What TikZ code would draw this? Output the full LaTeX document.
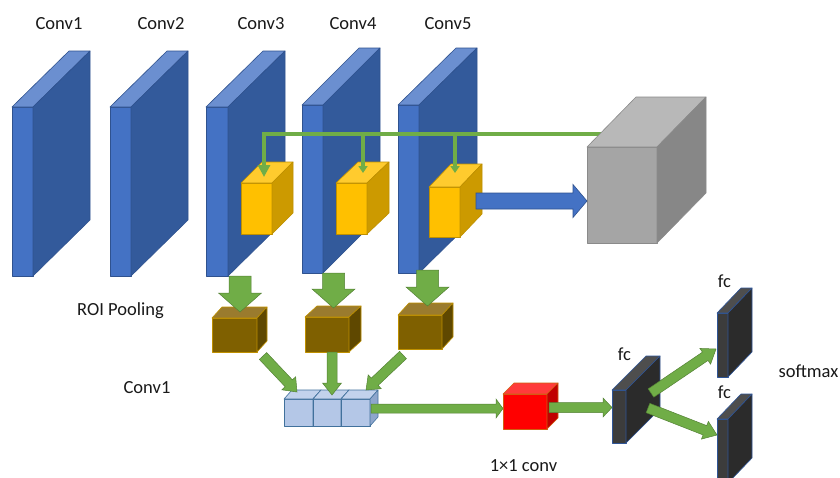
\documentclass[tikz,border=0pt]{standalone}
\usepackage{fontspec}
\setmainfont{Carlito}
\usetikzlibrary{calc,arrows.meta}
\definecolor{blueF}{HTML}{4472C4}\definecolor{blueT}{HTML}{6B8FD0}\definecolor{blueS}{HTML}{335A9B}\definecolor{blueE}{HTML}{2F528F}
\definecolor{yelF}{HTML}{FFC000}\definecolor{yelT}{HTML}{FFCB2E}\definecolor{yelS}{HTML}{CC9A00}\definecolor{yelE}{HTML}{BF9000}
\definecolor{greyF}{HTML}{A5A5A5}\definecolor{greyT}{HTML}{B8B8B8}\definecolor{greyS}{HTML}{878787}\definecolor{greyE}{HTML}{8A8A8A}
\definecolor{brnF}{HTML}{7F6000}\definecolor{brnT}{HTML}{9A7B2E}\definecolor{brnS}{HTML}{5F4800}\definecolor{brnE}{HTML}{BF9000}
\definecolor{lbF}{HTML}{B4C7E7}\definecolor{lbT}{HTML}{C2D2EC}\definecolor{lbS}{HTML}{8EA6CC}\definecolor{lbE}{HTML}{41719C}
\definecolor{rdF}{HTML}{FF0000}\definecolor{rdT}{HTML}{FF3B3B}\definecolor{rdS}{HTML}{C00000}\definecolor{rdE}{HTML}{D06010}
\definecolor{dkF}{HTML}{3C3C3C}\definecolor{dkT}{HTML}{4E4E4E}\definecolor{dkS}{HTML}{2B2B2B}\definecolor{dkE}{HTML}{2F5597}
\definecolor{grn}{HTML}{70AD47}\definecolor{grnE}{HTML}{548235}
\newcommand\cuboid[8]{%
  \node[#8 front, minimum width=#4pt, minimum height=#5pt, anchor=north west] (#1) at (#2,#3) {};
  \filldraw[#8 top] (#1.north west) -- ++(#6,-#7) -- ++(#4,0) -- (#1.north east) -- cycle;
  \filldraw[#8 side] (#1.north east) -- ++(#6,-#7) -- ++(0,#5) -- (#1.south east) -- cycle;
}
\newcommand\blockarrow[6]{%
  \coordinate (tmpH) at ($(#3)!#6!(#2)$);
  \filldraw[#1] ($(#2)!#4!90:(#3)$) -- ($(tmpH)!#4!90:(#3)$) -- ($(tmpH)!#5!90:(#3)$) -- (#3)
    -- ($(tmpH)!#5!-90:(#3)$) -- ($(tmpH)!#4!-90:(#3)$) -- ($(#2)!#4!-90:(#3)$) -- cycle;
}
\begin{document}
\begin{tikzpicture}[x=1pt,y=-1pt,
  face/.style={inner sep=0pt, outer sep=0pt, line width=0.6pt, line join=round},
  blue front/.style={face, fill=blueF, draw=blueE},
  blue top/.style={face, fill=blueT, draw=blueE},
  blue side/.style={face, fill=blueS, draw=blueE},
  yel front/.style={face, fill=yelF, draw=yelE},
  yel top/.style={face, fill=yelT, draw=yelE},
  yel side/.style={face, fill=yelS, draw=yelE},
  grey front/.style={face, fill=greyF, draw=greyE},
  grey top/.style={face, fill=greyT, draw=greyE},
  grey side/.style={face, fill=greyS, draw=greyE},
  brn front/.style={face, fill=brnF, draw=brnE},
  brn top/.style={face, fill=brnT, draw=brnE},
  brn side/.style={face, fill=brnS, draw=brnE},
  lb front/.style={face, fill=lbF, draw=lbE},
  lb top/.style={face, fill=lbT, draw=lbE},
  lb side/.style={face, fill=lbS, draw=lbE},
  rd front/.style={face, fill=rdF, draw=rdE},
  rd top/.style={face, fill=rdT, draw=rdE},
  rd side/.style={face, fill=rdS, draw=rdE},
  dk front/.style={face, fill=dkF, draw=dkE},
  dk top/.style={face, fill=dkT, draw=dkE},
  dk side/.style={face, fill=dkS, draw=dkE},
  garrow/.style={fill=grn, draw=grnE, line width=0.5pt, line join=miter},
  barrow/.style={fill=blueF, draw=blueE, line width=0.6pt, line join=miter},
  gline/.style={draw=grn, line width=3.5pt},
  lbl/.style={font=\fontsize{18.5}{22}\selectfont, anchor=base, inner sep=0pt, text=black!90}
]
\clip (0,0) rectangle (840,477);
\fill[white] (0,0) rectangle (840,477);
% conv slabs
\cuboid{conv1}{12}{107}{21}{169}{57}{56}{blue}
\cuboid{conv2}{110}{107}{21}{169}{57}{56}{blue}
\cuboid{conv3}{206}{107}{22}{169}{57}{56}{blue}
\cuboid{conv4}{302}{105}{21}{168}{57}{57}{blue}
\cuboid{conv5}{398}{105}{21}{168}{58}{57}{blue}
% ROI cubes
\cuboid{roi1}{241}{183}{31}{51}{21}{21}{yel}
\cuboid{roi2}{336}{183}{31}{51}{22}{21}{yel}
\cuboid{roi3}{429}{187}{31}{50}{22}{23}{yel}
% green feedback lines
\coordinate (gsrc) at (612,134);
\coordinate (roi1-in) at (264,177);
\coordinate (br2) at (363,134);
\coordinate (roi2-in) at (363,173);
\coordinate (br3) at (455,134);
\coordinate (roi3-in) at (455,173);
\draw[gline, -{Triangle[length=12pt,width=12pt]}] (gsrc) -| (roi1-in);
\draw[gline, -{Triangle[length=7pt,width=9pt]}] (br2) -- (roi2-in);
\draw[gline, -{Triangle[length=7pt,width=9pt]}] (br3) -- (roi3-in);
% grey feature box
\cuboid{feat}{587}{147}{70}{96}{49}{50}{grey}
% blue arrow
\coordinate (roi3-out) at (476,201);
\coordinate (feat-in) at (587,201);
\blockarrow{barrow}{roi3-out}{feat-in}{8pt}{16.5pt}{14pt}
% pooled cubes
\cuboid{pool1}{212}{318}{45}{34}{10}{11}{brn}
\cuboid{pool2}{305}{317}{44}{35}{12}{11}{brn}
\cuboid{pool3}{398}{315}{44}{34}{11}{12}{brn}
\coordinate (c3-out) at (240,276);
\coordinate (pool1-in) at (240,312);
\coordinate (c4-out) at (333.5,273);
\coordinate (pool2-in) at (333.5,308);
\coordinate (c5-out) at (427.5,270);
\coordinate (pool3-in) at (427.5,306);
\blockarrow{garrow}{c3-out}{pool1-in}{11pt}{21.5pt}{19pt}
\blockarrow{garrow}{c4-out}{pool2-in}{11pt}{21.5pt}{19pt}
\blockarrow{garrow}{c5-out}{pool3-in}{11pt}{21.5pt}{19pt}
% concatenated cubes
\cuboid{cat1}{284}{399}{29}{27}{8}{9}{lb}
\cuboid{cat2}{313}{399}{28}{27}{8}{9}{lb}
\cuboid{cat3}{341}{399}{29}{27}{8}{9}{lb}
\coordinate (pool1-out) at (263,356);
\coordinate (cat1-in) at (297,392);
\coordinate (pool2-out) at (332,352);
\coordinate (cat2-in) at (332,395);
\coordinate (pool3-out) at (403,355);
\coordinate (cat3-in) at (366,390);
\blockarrow{garrow}{pool1-out}{cat1-in}{5pt}{9.5pt}{12pt}
\blockarrow{garrow}{pool2-out}{cat2-in}{5pt}{9.5pt}{12pt}
\blockarrow{garrow}{pool3-out}{cat3-in}{5pt}{9.5pt}{12pt}
% 1x1 conv
\coordinate (cat-out) at (371,408.5);
\coordinate (red-in) at (503,408.5);
\blockarrow{garrow}{cat-out}{red-in}{4.5pt}{9.5pt}{7pt}
\cuboid{onebyone}{503}{394}{44}{35}{11}{11}{rd}
% fc layers
\cuboid{fc1}{612}{390}{14}{53}{34}{34}{dk}
\cuboid{fc2}{717}{313}{11}{64}{24}{25}{dk}
\cuboid{fc3}{717}{419}{11}{64}{24}{25}{dk}
\coordinate (red-out) at (549,407.5);
\coordinate (fc1-in) at (612,407.5);
\blockarrow{garrow}{red-out}{fc1-in}{5pt}{9.5pt}{9pt}
\coordinate (fc1-o1) at (651,393);
\coordinate (fc2-in) at (716,349);
\coordinate (fc1-o2) at (648,408);
\coordinate (fc3-in) at (717,435);
\blockarrow{garrow}{fc1-o1}{fc2-in}{5pt}{9.5pt}{13pt}
\blockarrow{garrow}{fc1-o2}{fc3-in}{5pt}{9.5pt}{13pt}
% labels
\node[lbl] (t-conv1) at (59,29) {Conv1};
\node[lbl] (t-conv2) at (161,29) {Conv2};
\node[lbl] (t-conv3) at (261,29) {Conv3};
\node[lbl] (t-conv4) at (353,29) {Conv4};
\node[lbl] (t-conv5) at (448,29) {Conv5};
\node[lbl] (t-roi) at (120.5,315) {ROI Pooling};
\node[lbl] (t-conv1b) at (147,393) {Conv1};
\node[lbl] (t-fc1) at (624.5,360) {fc};
\node[lbl] (t-fc2) at (724.5,287) {fc};
\node[lbl] (t-fc3) at (724.5,398) {fc};
\node[lbl] (t-soft) at (808.5,377) {softmax};
\node[lbl] (t-1x1) at (523.5,471) {1×1 conv};
\end{tikzpicture}
\end{document}
